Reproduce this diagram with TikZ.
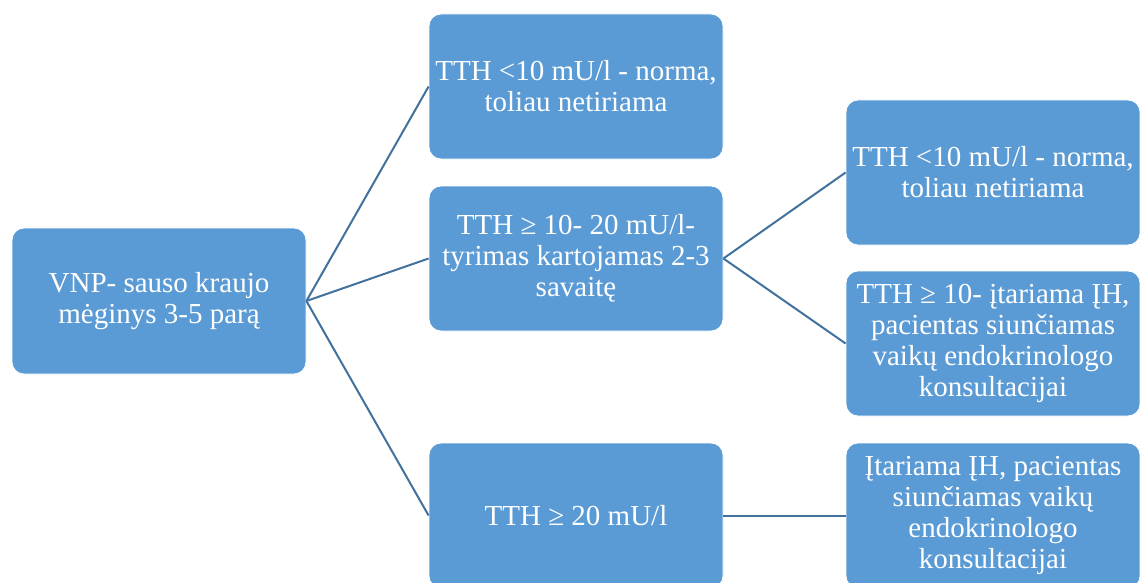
\documentclass[tikz,border=0pt]{standalone}
\usepackage{fontspec}
\setmainfont{Liberation Serif}
\definecolor{boxblue}{HTML}{5B9BD5}
\definecolor{lineblue}{HTML}{41719C}
\begin{document}
\begin{tikzpicture}[x=1pt,y=-1pt,
  box/.style={fill=boxblue, draw=white, line width=0.8pt, rounded corners=12pt,
    minimum width=294pt, minimum height=145pt, inner sep=0pt, align=center,
    text=white, font=\fontsize{29}{31}\selectfont},
  conn/.style={draw=lineblue, line width=2pt}]
\useasboundingbox (0,0) rectangle (1140,583);
\node[box, minimum height=146pt] (L) at (159,301) {VNP- sauso kraujo\\mėginys 3-5 parą};
\node[box] (M1) at (576,86.5) {TTH <10 mU/l - norma,\\toliau netiriama};
\node[box] (M2) at (576,258.5) {TTH ≥ 10- 20 mU/l-\\tyrimas kartojamas 2-3\\savaitę};
\node[box] (M3) at (576,515.5) {TTH ≥ 20 mU/l};
\node[box] (R1) at (993,172.5) {TTH <10 mU/l - norma,\\toliau netiriama};
\node[box] (R2) at (993,343.5) {TTH ≥ 10- įtariama ĮH,\\pacientas siunčiamas\\vaikų endokrinologo\\konsultacijai};
\node[box] (R3) at (993,515.5) {Įtariama ĮH, pacientas\\siunčiamas vaikų\\endokrinologo\\konsultacijai};
\draw[conn] (L.east) -- (M1.west);
\draw[conn] (L.east) -- (M2.west);
\draw[conn] (L.east) -- (M3.west);
\draw[conn] (M2.east) -- (R1.west);
\draw[conn] (M2.east) -- (R2.west);
\draw[conn] (M3.east) -- (R3.west);
\end{tikzpicture}
\end{document}
